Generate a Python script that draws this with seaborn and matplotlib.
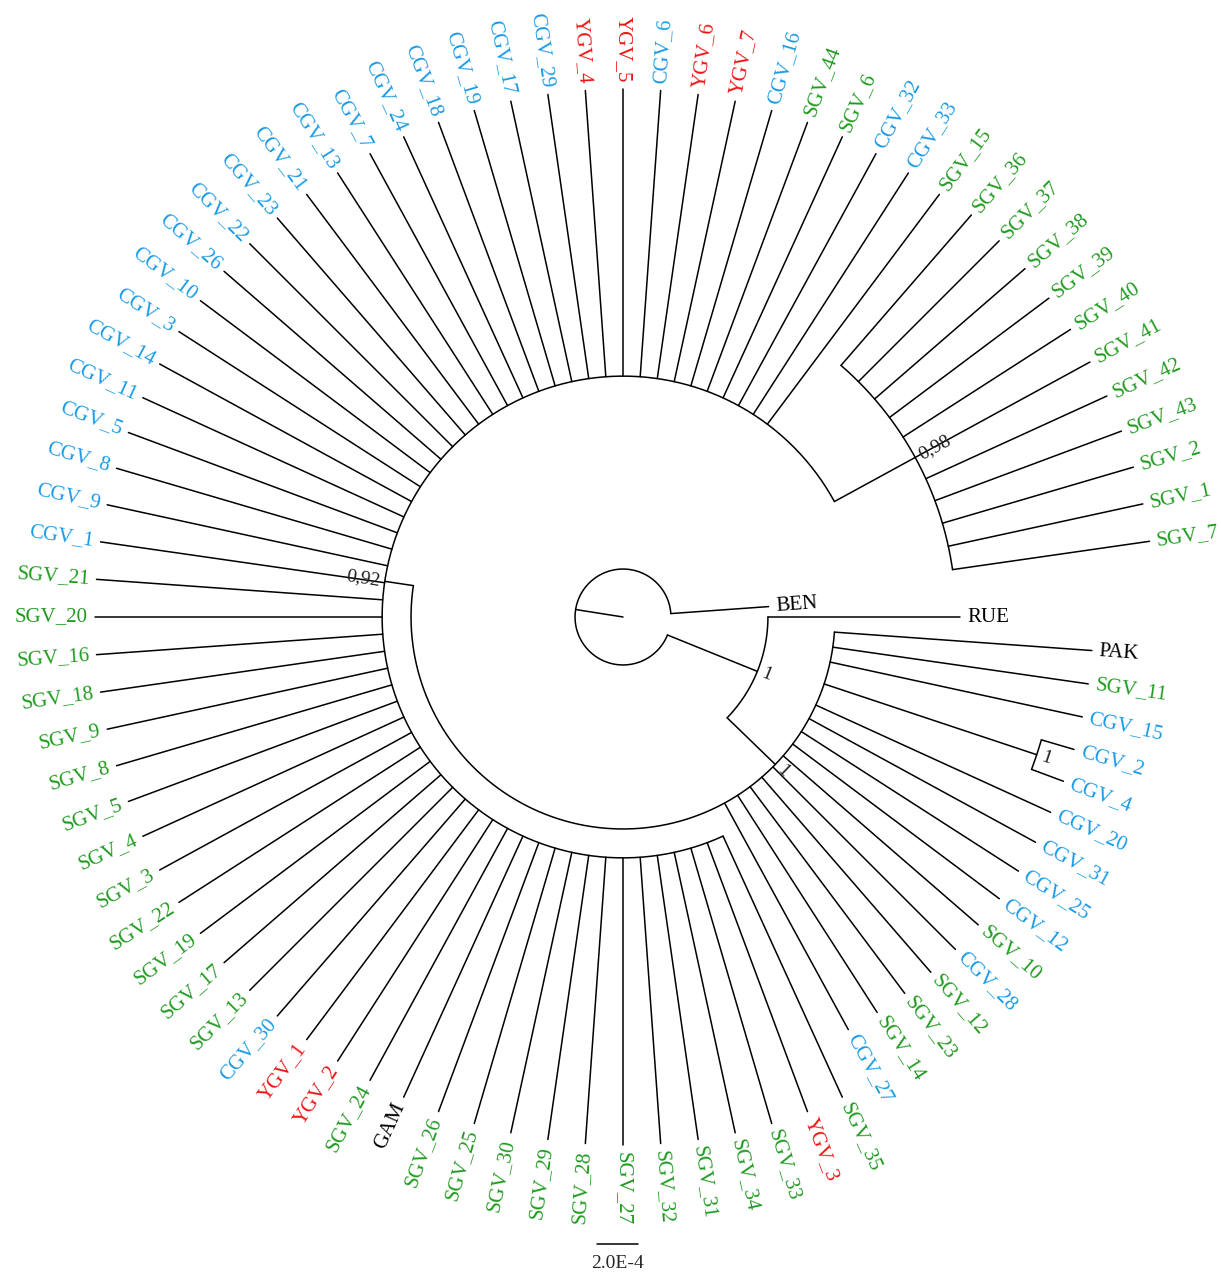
import numpy as np
import pandas as pd
import matplotlib
matplotlib.use("Agg")
import matplotlib.pyplot as plt
import seaborn as sns

# tips in clockwise order, starting at 3 o'clock
tips = ["RUE", "PAK", "SGV_11", "CGV_15", "CGV_2", "CGV_4", "CGV_20", "CGV_31", "CGV_25", "CGV_12",
        "SGV_10", "CGV_28", "SGV_12", "SGV_23", "SGV_14", "CGV_27",
        "SGV_35", "YGV_3", "SGV_33", "SGV_34", "SGV_31", "SGV_32", "SGV_27", "SGV_28", "SGV_29", "SGV_30",
        "SGV_25", "SGV_26", "GAM", "SGV_24", "YGV_2", "YGV_1", "CGV_30", "SGV_13", "SGV_17", "SGV_19",
        "SGV_22", "SGV_3", "SGV_4", "SGV_5", "SGV_8", "SGV_9", "SGV_18", "SGV_16", "SGV_20", "SGV_21",
        "CGV_1", "CGV_9", "CGV_8", "CGV_5", "CGV_11", "CGV_14", "CGV_3", "CGV_10", "CGV_26", "CGV_22",
        "CGV_23", "CGV_21", "CGV_13", "CGV_7", "CGV_24", "CGV_18", "CGV_19", "CGV_17", "CGV_29", "YGV_4",
        "YGV_5", "CGV_6", "YGV_6", "YGV_7", "CGV_16", "SGV_44", "SGV_6", "CGV_32", "CGV_33", "SGV_15",
        "SGV_36", "SGV_37", "SGV_38", "SGV_39", "SGV_40", "SGV_41", "SGV_42", "SGV_43", "SGV_2", "SGV_1",
        "SGV_7", "BEN"]
tip_parent = ["B"] + ["C"] * 3 + ["CG"] * 2 + ["C"] * 10 + ["D"] * 60 + ["F"] * 11 + ["A"]
# branch lengths (substitutions/site)
tip_len = [9.37e-4] + [12.59e-4] * 3 + [1.66e-4] * 2 + [12.59e-4] * 10 + [14.0e-4] * 60 + [9.71e-4] * 11 + [4.78e-4]

nodes = ["A", "B", "C", "CG", "D", "F"]
node_parent = ["root", "A", "B", "C", "C", "D"]
node_len = [2.34e-4, 4.73e-4, 3.27e-4, 10.93e-4, 1.41e-4, 4.49e-4]
node_support = ["", "1", "1", "1", "0,92", "0,98"]

colors = {"CGV": "#1a9be6", "SGV": "#1f9a1f", "YGV": "#f01414"}

PX = 205000.0  # pixels per unit
CX, CY = 623, 617

sns.set_theme(style="white")
plt.rcParams["font.family"] = ["Liberation Serif", "DejaVu Serif"]

fig = plt.figure(figsize=(12.21, 12.75), dpi=100)
ax = fig.add_axes([0, 0, 1, 1])

# layout
n = len(tips)
step = 360.0 / n
rad = {"root": 0.0}
for nd, p, L in zip(nodes, node_parent, node_len):
    rad[nd] = rad[p] + L
ang = {}
children = {nd: [] for nd in nodes}
for i, (t, p, L) in enumerate(zip(tips, tip_parent, tip_len)):
    ang[t] = i * step
    rad[t] = rad[p] + L
    children[p].append(t)
for nd, p in zip(nodes, node_parent):
    if p in children:
        children[p].append(nd)
for nd in reversed(nodes):
    ang[nd] = np.mean([ang[c] for c in children[nd]])


def xy(r, a):
    t = np.radians(a)
    return r * np.cos(t), -r * np.sin(t)


rows = []
seg = 0
parent_of = dict(zip(tips, tip_parent))
parent_of.update(dict(zip(nodes, node_parent)))
for name, p in parent_of.items():
    for r in (rad[p], rad[name]):
        x, y = xy(r, ang[name])
        rows.append((seg, x, y))
    seg += 1
for nd in nodes:
    a0 = min(ang[c] for c in children[nd])
    a1 = max(ang[c] for c in children[nd])
    for a in np.linspace(a0, a1, 400):
        x, y = xy(rad[nd], a)
        rows.append((seg, x, y))
    seg += 1
df = pd.DataFrame(rows, columns=["seg", "x", "y"])

sns.lineplot(data=df, x="x", y="y", units="seg", estimator=None, sort=False,
             color="black", lw=1.1, ax=ax, legend=False)


def radial_text(r, a, s, color, size):
    x, y = xy(r, a)
    if 90.001 < a <= 270.001:
        rot, ha = 180 - a, "right"
    else:
        rot, ha = -a, "left"
    ax.text(x, y, s, rotation=rot, rotation_mode="anchor", ha=ha, va="center",
            color=color, fontsize=size)


gap = 7 / PX
for t in tips:
    radial_text(rad[t] + gap, ang[t], t, colors.get(t[:3], "black"), 15)
for nd, s in zip(nodes, node_support):
    if s:
        radial_text(rad[nd] + 5 / PX, ang[nd], s, "#222222", 14)

# scale bar
sx0, sy = (597 - CX) / PX, (CY - 1244) / PX
ax.plot([sx0, sx0 + 2e-4], [sy, sy], color="black", lw=1.1)
ax.text(sx0 + 1e-4, (CY - 1263) / PX, "2.0E-4", ha="center", va="center", fontsize=14)

ax.set_xlim(-CX / PX, (1221 - CX) / PX)
ax.set_ylim(-(1275 - CY) / PX, CY / PX)
ax.axis("off")

fig.savefig("out.png", dpi=100, facecolor="white")
